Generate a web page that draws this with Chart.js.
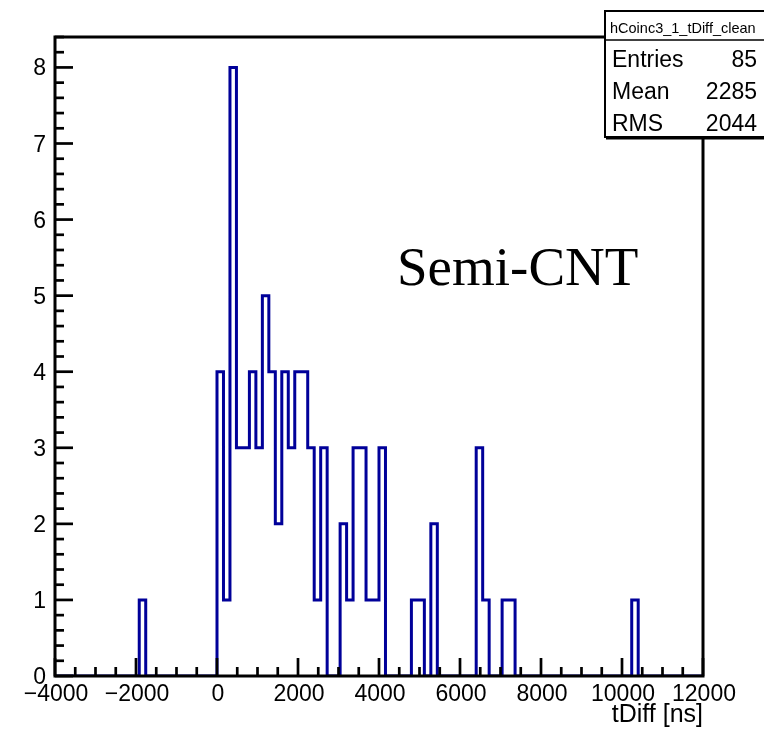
<!DOCTYPE html>
<html>
<head>
<meta charset="utf-8">
<style>
  html, body { margin: 0; padding: 0; background: #fff; }
  #wrap { width: 764px; height: 733px; }
</style>
<script src="https://cdn.jsdelivr.net/npm/chart.js@4.4.1/dist/chart.umd.min.js"></script>
</head>
<body>
<div id="wrap"><canvas id="c" width="764" height="733"></canvas></div>
<script>
// histogram: 100 bins of 160 ns from -4000 to 12000
const binLow = -4000;
const binWidth = 160;
const counts = [
  0, 0, 0, 0, 0, 0, 0, 0, 0, 0,
  0, 0, 0, 1, 0, 0, 0, 0, 0, 0,
  0, 0, 0, 0, 0, 4, 1, 8, 3, 3,
  4, 3, 5, 4, 2, 4, 3, 4, 4, 3,
  1, 3, 0, 0, 2, 1, 3, 3, 1, 1,
  3, 0, 0, 0, 0, 1, 1, 0, 2, 0,
  0, 0, 0, 0, 0, 3, 1, 0, 0, 1,
  1, 0, 0, 0, 0, 0, 0, 0, 0, 0,
  0, 0, 0, 0, 0, 0, 0, 0, 0, 1,
  0, 0, 0, 0, 0, 0, 0, 0, 0, 0
];
const xTicks = [-4000, -2000, 0, 2000, 4000, 6000, 8000, 10000, 12000];
const yTicks = [0, 1, 2, 3, 4, 5, 6, 7, 8];
const yMax = 8.4;
const statsNames = ["Entries", "Mean", "RMS"];
const statsValues = [85, 2285, 2044];
const histName = "hCoinc3_1_tDiff_clean";
const xTitle = "tDiff [ns]";
const tagText = "Semi-CNT";

// bin low edges + closing point at the upper edge
const points = counts.map((n, i) => ({ x: binLow + i * binWidth, y: n }));
points.push({ x: binLow + counts.length * binWidth, y: 0 });

const SANS = '"Liberation Sans", Arial, Helvetica, sans-serif';

function fmt(v) {
  return v < 0 ? "\u2212" + Math.abs(v) : String(v);
}

function seg(ctx, x1, y1, x2, y2) {
  ctx.beginPath();
  ctx.moveTo(x1, y1);
  ctx.lineTo(x2, y2);
  ctx.stroke();
}

// ROOT-like frame: inward ticks, labels, stats box
const rootFrame = {
  id: "rootFrame",
  afterDraw(chart) {
    const { ctx, chartArea: a, scales: { x, y } } = chart;
    ctx.save();
    ctx.strokeStyle = "#000";
    ctx.fillStyle = "#000";
    ctx.lineWidth = 3;
    ctx.lineCap = "butt";
    ctx.strokeRect(a.left, a.top, a.right - a.left, a.bottom - a.top);

    // x ticks
    ctx.lineWidth = 2.7;
    const xStep = (xTicks[1] - xTicks[0]) / 4;
    for (let v = xTicks[0]; v <= xTicks[xTicks.length - 1]; v += xStep) {
      const px = x.getPixelForValue(v);
      const major = xTicks.includes(v);
      seg(ctx, px, a.bottom, px, a.bottom - (major ? 18 : 9));
    }
    // y ticks
    const yStep = (yTicks[1] - yTicks[0]) / 5;
    for (let k = 0; k * yStep <= yMax + 1e-9; k++) {
      const v = k * yStep;
      const py = y.getPixelForValue(v);
      const major = k % 5 === 0;
      seg(ctx, a.left, py, a.left + (major ? 18 : 9), py);
    }

    // tick labels
    ctx.font = "23px " + SANS;
    ctx.textBaseline = "alphabetic";
    ctx.textAlign = "center";
    xTicks.forEach(v => ctx.fillText(fmt(v), x.getPixelForValue(v) + 1, a.bottom + 25));
    ctx.textAlign = "right";
    yTicks.forEach(v => ctx.fillText(fmt(v), a.left - 9, y.getPixelForValue(v) + 8));

    // axis title
    ctx.font = "25px " + SANS;
    ctx.textAlign = "right";
    ctx.fillText(xTitle, a.right, 722);

    // label text
    ctx.font = '55px "Liberation Serif", "Times New Roman", serif';
    ctx.textAlign = "left";
    ctx.fillText(tagText, 397, 285);

    // stats box
    const bx = 605, by = 11, bw = 190, bh = 126;
    ctx.fillStyle = "#fff";
    ctx.fillRect(bx, by, bw, bh);
    ctx.lineWidth = 2;
    ctx.strokeRect(bx, by, bw, bh);
    seg(ctx, bx + 1, by + bh + 1.5, bx + bw, by + bh + 1.5);
    ctx.lineWidth = 1.5;
    seg(ctx, bx, 40, bx + bw, 40);
    ctx.fillStyle = "#000";
    ctx.font = "14.5px " + SANS;
    ctx.textAlign = "left";
    ctx.fillText(histName, 610, 33);
    ctx.font = "23px " + SANS;
    statsNames.forEach((name, i) => {
      const base = 67 + i * 32;
      ctx.textAlign = "left";
      ctx.fillText(name, 612, base);
      ctx.textAlign = "right";
      ctx.fillText(String(statsValues[i]), 757, base);
    });
    ctx.restore();
  }
};

new Chart(document.getElementById("c"), {
  type: "line",
  data: {
    datasets: [{
      label: histName,
      data: points,
      stepped: "before",
      borderColor: "#000099",
      borderWidth: 3,
      pointRadius: 0,
      fill: false,
      tension: 0
    }]
  },
  options: {
    responsive: false,
    animation: false,
    devicePixelRatio: 1,
    layout: { padding: { left: 55, right: 61, top: 37, bottom: 57 } },
    scales: {
      x: { type: "linear", min: xTicks[0], max: xTicks[xTicks.length - 1], display: false },
      y: { min: 0, max: yMax, display: false }
    },
    plugins: {
      legend: { display: false },
      tooltip: { enabled: false }
    }
  },
  plugins: [rootFrame]
});
</script>
</body>
</html>
